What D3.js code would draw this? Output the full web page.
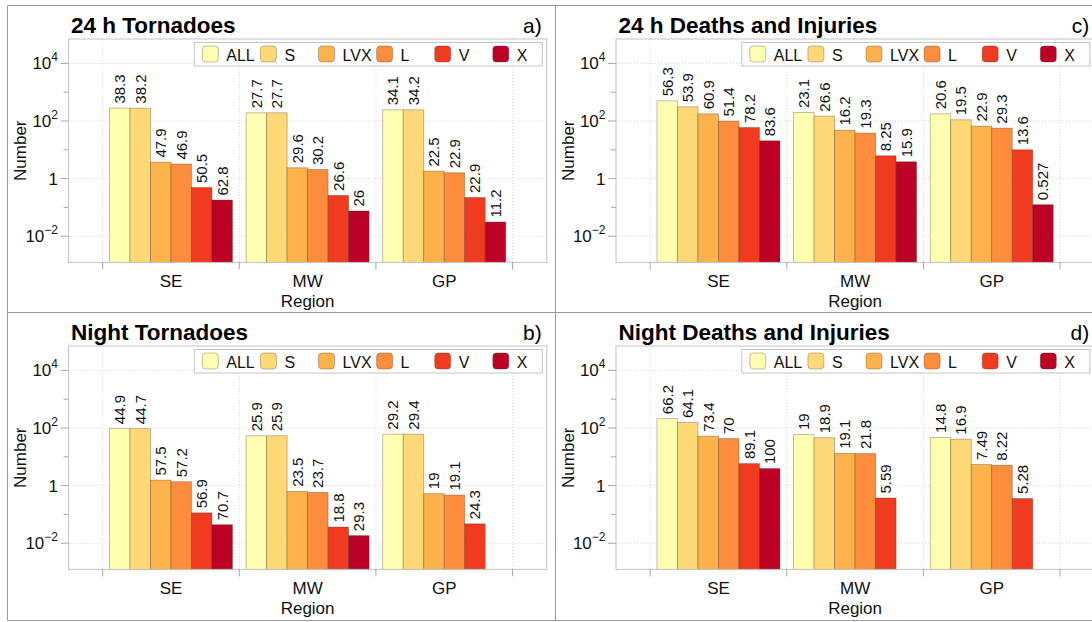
<!DOCTYPE html>
<html><head><meta charset="utf-8">
<script src="https://cdn.jsdelivr.net/npm/d3@7"></script>
<style>
body{margin:0;background:#fff}
svg{display:block;font-family:"Liberation Sans",Arial,Helvetica,sans-serif}
</style>
</head><body><svg id="chart" width="1092" height="622"></svg>
<script>
// ---------- data ----------
const regions = ["SE", "MW", "GP"];
const seriesNames = ["ALL", "S", "LVX", "L", "V", "X"];
const seriesColors = ["#ffffb2", "#fed976", "#feb24c", "#fd8d3c", "#f03b20", "#bd0026"];
const yTicks = [1e-2, 1, 1e2, 1e4];
const yTickExponents = ["\u22122", "", "2", "4"];
const yMinorTicks = [1e-1, 1e1, 1e3];
const xTicks = [0.5, 1.5, 2.5, 3.5];

// a) 24 h Tornadoes
const tornado24Values = [
  [280, 278, 3.74, 3.19, 0.49, 0.18],
  [192, 192, 2.37, 2.07, 0.26, 0.075],
  [244, 244, 1.82, 1.59, 0.221, 0.031]
];
const tornado24Labels = [
  ["38.3", "38.2", "47.9", "46.9", "50.5", "62.8"],
  ["27.7", "27.7", "29.6", "30.2", "26.6", "26"],
  ["34.1", "34.2", "22.5", "22.9", "22.9", "11.2"]
];
// b) Night Tornadoes
const tornadoNightValues = [
  [95, 95, 1.55, 1.36, 0.113, 0.0437],
  [53.5, 53.5, 0.63, 0.58, 0.0364, 0.0183],
  [61, 61, 0.525, 0.47, 0.047, null]
];
const tornadoNightLabels = [
  ["44.9", "44.7", "57.5", "57.2", "56.9", "70.7"],
  ["25.9", "25.9", "23.5", "23.7", "18.8", "29.3"],
  ["29.2", "29.4", "19", "19.1", "24.3", null]
];
// c) 24 h Deaths and Injuries
const casualty24Values = [
  [500, 310, 177, 99, 59.3, 20.5],
  [196, 147.5, 48.2, 37.9, 6.19, 3.83],
  [177, 110, 66.4, 56.5, 10, 0.124]
];
const casualty24Labels = [
  ["56.3", "53.9", "60.9", "51.4", "78.2", "83.6"],
  ["23.1", "26.6", "16.2", "19.3", "8.25", "15.9"],
  ["20.6", "19.5", "22.9", "29.3", "13.6", "0.527"]
];
// d) Night Deaths and Injuries
const casualtyNightValues = [
  [211, 154, 52, 43, 5.8, 3.9],
  [59.4, 45.7, 13.2, 12.9, 0.37, null],
  [46.9, 41, 5.36, 5.08, 0.355, null]
];
const casualtyNightLabels = [
  ["66.2", "64.1", "73.4", "70", "89.1", "100"],
  ["19", "18.9", "19.1", "21.8", "5.59", null],
  ["14.8", "16.9", "7.49", "8.22", "5.28", null]
];

const panels = [
  {title: "24 h Tornadoes", letter: "a)", values: tornado24Values, labels: tornado24Labels, dx: 0, dy: 0},
  {title: "Night Tornadoes", letter: "b)", values: tornadoNightValues, labels: tornadoNightLabels, dx: 0, dy: 307},
  {title: "24 h Deaths and Injuries", letter: "c)", values: casualty24Values, labels: casualty24Labels, dx: 547.5, dy: 0},
  {title: "Night Deaths and Injuries", letter: "d)", values: casualtyNightValues, labels: casualtyNightLabels, dx: 547.5, dy: 307}
];

// ---------- layout ----------
const svg = d3.select("#chart");
const plotL = 68.5, plotR = 546.7, plotT = 39, plotB = 262.4;
const axisGrey = "#a8a8a8";
const barStroke = "rgba(60,40,20,0.38)";

// panel frame lines
const frame = svg.append("g").attr("stroke", "#9a9a9a").attr("stroke-width", 1).attr("fill", "none");
frame.append("line").attr("x1", 7.5).attr("x2", 1092).attr("y1", 5.5).attr("y2", 5.5);
frame.append("line").attr("x1", 7.5).attr("x2", 7.5).attr("y1", 5.5).attr("y2", 620.5);
frame.append("line").attr("x1", 7.5).attr("x2", 1092).attr("y1", 620.5).attr("y2", 620.5);
frame.append("line").attr("x1", 555.5).attr("x2", 555.5).attr("y1", 5.5).attr("y2", 620.5);
frame.append("line").attr("x1", 7.5).attr("x2", 1092).attr("y1", 312.5).attr("y2", 312.5);

panels.forEach(p => {
  const g = svg.append("g").attr("transform", `translate(${p.dx},${p.dy})`);
  const x = d3.scaleLinear().domain([0.25, 3.75]).range([plotL, plotR]);
  const y = d3.scaleLog().domain([Math.pow(10, -2.91), Math.pow(10, 4.847)]).range([plotB, plotT]);

  // background + grid
  g.append("rect").attr("x", plotL).attr("y", plotT).attr("width", plotR - plotL).attr("height", plotB - plotT).attr("fill", "#fff");
  const grid = g.append("g").attr("stroke", "#d4d4d4").attr("stroke-width", 1).attr("stroke-dasharray", "1,2");
  grid.selectAll("line.h").data(yTicks).join("line").attr("class", "h")
    .attr("x1", plotL).attr("x2", plotR).attr("y1", d => y(d)).attr("y2", d => y(d));
  grid.selectAll("line.v").data(xTicks).join("line").attr("class", "v")
    .attr("y1", plotT).attr("y2", plotB).attr("x1", d => x(d)).attr("x2", d => x(d));

  // bars
  const bw = 0.15;
  const groups = g.append("g");
  regions.forEach((r, ri) => {
    const center = ri + 1;
    p.values[ri].forEach((v, si) => {
      if (v == null) return;
      const x0 = x(center - 0.45 + si * bw), x1 = x(center - 0.45 + (si + 1) * bw);
      groups.append("rect")
        .attr("x", x0).attr("width", x1 - x0)
        .attr("y", y(v)).attr("height", plotB - y(v))
        .attr("fill", seriesColors[si]).attr("stroke", barStroke).attr("stroke-width", 0.8);
      const lab = p.labels[ri][si];
      if (lab != null) {
        const cx = (x0 + x1) / 2, ty = y(v) - 4.5;
        groups.append("text")
          .attr("transform", `translate(${cx},${ty}) rotate(-90)`)
          .attr("dominant-baseline", "central")
          .attr("font-size", 15).attr("fill", "#111")
          .text(lab);
      }
    });
  });

  // plot box
  g.append("rect").attr("x", plotL).attr("y", plotT).attr("width", plotR - plotL).attr("height", plotB - plotT)
    .attr("fill", "none").attr("stroke", "#c4c4c4").attr("stroke-width", 1);

  // y axis ticks
  const yt = g.append("g").attr("stroke", axisGrey).attr("stroke-width", 1);
  yt.selectAll("line.maj").data(yTicks).join("line").attr("class", "maj")
    .attr("x1", plotL - 8).attr("x2", plotL).attr("y1", d => y(d)).attr("y2", d => y(d));
  yt.selectAll("line.min").data(yMinorTicks).join("line").attr("class", "min")
    .attr("x1", plotL - 5).attr("x2", plotL).attr("y1", d => y(d)).attr("y2", d => y(d));
  yTicks.forEach((t, i) => {
    const tx = g.append("text").attr("x", plotL - 10.5).attr("y", y(t) + 6)
      .attr("text-anchor", "end").attr("font-size", 17).attr("fill", "#111");
    if (yTickExponents[i] === "") {
      tx.text("1");
    } else {
      tx.append("tspan").text("10");
      tx.append("tspan").attr("font-size", 12).attr("dy", -8).text(yTickExponents[i]);
    }
  });

  // x axis ticks
  g.append("g").attr("stroke", axisGrey).selectAll("line").data(xTicks).join("line")
    .attr("x1", d => x(d)).attr("x2", d => x(d)).attr("y1", plotB).attr("y2", plotB + 7);
  g.selectAll("text.xl").data(regions).join("text").attr("class", "xl")
    .attr("x", (d, i) => x(i + 1)).attr("y", 286.5).attr("text-anchor", "middle")
    .attr("font-size", 17).attr("fill", "#111").text(d => d);

  // axis labels
  g.append("text").attr("x", (plotL + plotR) / 2).attr("y", 307).attr("text-anchor", "middle")
    .attr("font-size", 17).attr("fill", "#111").text("Region");
  g.append("text").attr("transform", `translate(26,${(plotT + plotB) / 2}) rotate(-90)`)
    .attr("text-anchor", "middle").attr("font-size", 17).attr("fill", "#111").text("Number");

  // title and letter
  g.append("text").attr("x", 71).attr("y", 32.5).attr("font-size", 22.5).attr("font-weight", "bold")
    .attr("fill", "#000").text(p.title);
  g.append("text").attr("x", 541.7).attr("y", 32.5).attr("text-anchor", "end").attr("font-size", 21)
    .attr("fill", "#000").text(p.letter);

  // legend
  const lg = g.append("g");
  lg.append("rect").attr("x", 194.3).attr("y", 42.5).attr("width", 348).attr("height", 23.5)
    .attr("fill", "#fff").attr("stroke", "#c4c4c4").attr("stroke-width", 1);
  seriesNames.forEach((s, i) => {
    const lx = 202.3 + i * 58.1;
    lg.append("rect").attr("x", lx).attr("y", 46).attr("width", 16).attr("height", 16)
      .attr("rx", 3.5).attr("fill", seriesColors[i]).attr("stroke", barStroke).attr("stroke-width", 0.8);
    lg.append("text").attr("x", lx + 24).attr("y", 60.5).attr("font-size", 16).attr("fill", "#111").text(s);
  });
});
</script></body></html>
